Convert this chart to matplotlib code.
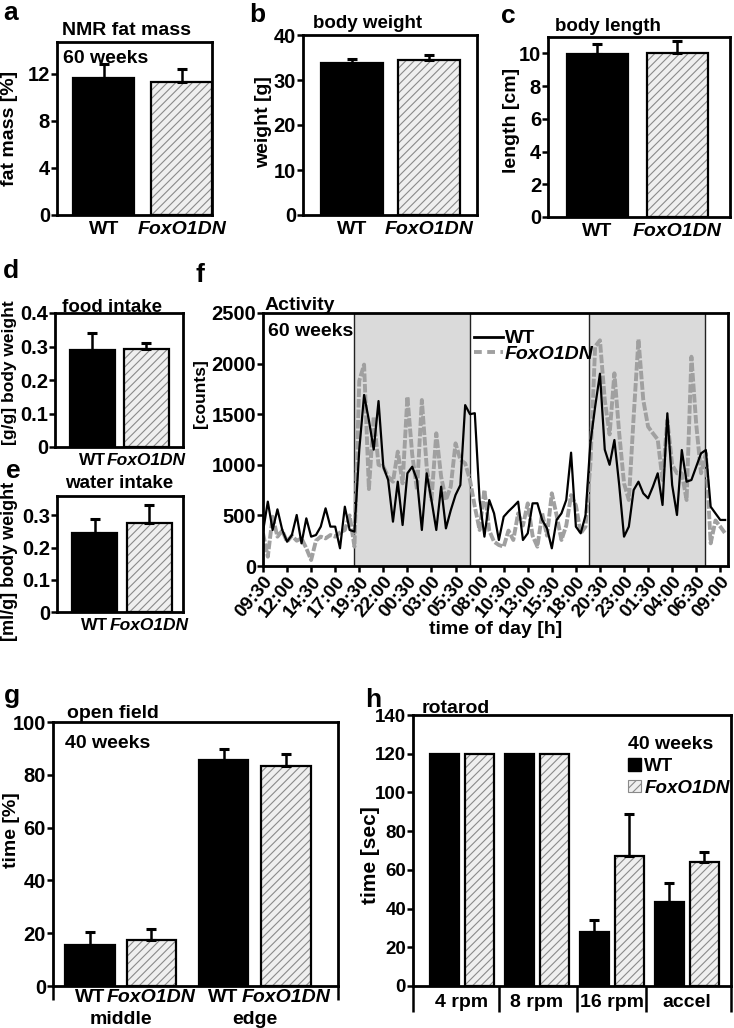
import numpy as np
import matplotlib
matplotlib.use("Agg")
import matplotlib.pyplot as plt
from matplotlib.patches import Patch
from matplotlib.lines import Line2D
from matplotlib.transforms import blended_transform_factory

W, H = 734, 1028

# ---- data ----
genotypes = ["WT", "FoxO1DN"]

fat_mass = [11.6, 11.3]
fat_mass_err = [1.2, 1.1]
body_weight = [33.7, 34.4]
body_weight_err = [0.9, 1.1]
body_length = [9.95, 10.05]
body_length_err = [0.65, 0.7]
food_intake = [0.29, 0.293]
food_intake_err = [0.05, 0.018]
water_intake = [0.245, 0.276]
water_intake_err = [0.045, 0.055]

# activity, sampled every 30 min starting 09:30
activity_hours = np.arange(0, 48.5, 0.5)
wt_activity = [
    340, 636, 356, 560, 356, 240, 306, 504, 224, 471,
    290, 306, 389, 570, 389, 389, 175, 586, 356, 340,
    1150, 1690, 1440, 1150, 1630, 980, 850, 438, 833, 405,
    916, 981, 850, 356, 916, 650, 356, 784, 372, 550,
    702, 800, 1590, 1500, 1510, 652, 290, 652, 520, 257,
    487, 540, 586, 636, 257, 323, 619, 620, 455, 372,
    175, 455, 520, 652, 1120, 389, 323, 500, 1210, 1574,
    1900, 1150, 1000, 1245, 800, 290, 389, 751, 833, 718,
    669, 784, 916, 603, 1509, 800, 504, 1146, 833, 850,
    982, 1113, 1146, 586, 520, 455, 455,
]
fox_activity = [
    323, 92, 487, 290, 350, 240, 300, 250, 273, 175,
    59, 250, 290, 273, 306, 290, 330, 356, 500, 191,
    1830, 1990, 760, 1475, 1000, 981, 883, 833, 1130, 817,
    1673, 1100, 751, 1640, 982, 652, 1311, 883, 652, 784,
    1212, 1050, 1014, 850, 586, 356, 751, 350, 240, 207,
    191, 350, 257, 520, 400, 619, 300, 191, 520, 300,
    718, 500, 257, 400, 700, 600, 323, 389, 1000, 2170,
    2230, 1640, 1300, 1904, 1311, 817, 652, 1475, 2240, 1640,
    1377, 1311, 1250, 850, 1443, 1000, 916, 916, 652, 2068,
    1400, 916, 1113, 224, 450, 389, 323,
]
dark_phases = [(9.5, 21.5), (33.9, 45.9)]
time_labels = ["09:30", "12:00", "14:30", "17:00", "19:30", "22:00", "00:30",
               "03:00", "05:30", "08:00", "10:30", "13:00", "15:30", "18:00",
               "20:30", "23:00", "01:30", "04:00", "06:30", "09:00"]

openfield_labels = ["WT", "FoxO1DN", "WT", "FoxO1DN"]
openfield_zones = ["middle", "edge"]
openfield = [15.5, 17.4, 85.5, 83.2]
openfield_err = [5.0, 4.3, 4.4, 4.6]

rotarod_speeds = ["4 rpm", "8 rpm", "16 rpm", "accel"]
rotarod_wt = [120, 120, 28, 43.5]
rotarod_wt_err = [0, 0, 6, 9.5]
rotarod_fox = [120, 120, 67.1, 64.2]
rotarod_fox_err = [0, 0, 22, 5.2]

# ---- style ----
plt.rcParams["font.family"] = ["Liberation Sans", "DejaVu Sans"]
plt.rcParams["font.weight"] = "bold"
plt.rcParams["axes.labelweight"] = "bold"
plt.rcParams["hatch.linewidth"] = 0.8
plt.rcParams["axes.linewidth"] = 2.0

HATCH_FACE = "#efefef"
HATCH_LINE = "#8a8a8a"
FS = 14      # titles / labels
TS = 14.5    # tick labels
LS = 19      # panel letters

fig = plt.figure(figsize=(W / 100, H / 100), dpi=100)


def px_axes(l, t, r, b):
    return fig.add_axes([l / W, 1 - b / H, (r - l) / W, (b - t) / H])


def ftext(x, y, s, **kw):
    kw.setdefault("fontsize", FS)
    return fig.text(x / W, 1 - y / H, s, **kw)


def ylab(x, y, s, **kw):
    return ftext(x, y, s, rotation=90, ha="center", va="center", **kw)


def style_axis(ax, size=TS, xsize=None):
    ax.tick_params(axis="y", direction="out", length=4, width=1.8, labelsize=size, pad=1)
    ax.tick_params(axis="x", length=0, labelsize=xsize or FS, pad=4)


def hatched_bar(ax, x, h, w):
    ax.bar(x, h, w, color=HATCH_FACE, edgecolor=HATCH_LINE, hatch="////", linewidth=0, zorder=2)
    ax.bar(x, h, w, color="none", edgecolor="black", linewidth=1.6, zorder=3)


def up_err(ax, x, y, e):
    ax.errorbar(x, y, yerr=[np.zeros(len(e)), e], fmt="none", ecolor="black",
                elinewidth=1.8, capsize=3.5, capthick=2.2, zorder=4)


def pair_panel(ax, vals, errs, width, xlim, ylim, yticks, yfmt=None, xsize=None):
    ax.bar(0, vals[0], width, color="black", edgecolor="black", linewidth=1.6, zorder=3)
    hatched_bar(ax, 1, vals[1], width)
    up_err(ax, [0, 1], vals, errs)
    ax.set_xlim(*xlim)
    ax.set_ylim(*ylim)
    ax.set_yticks(yticks)
    if yfmt:
        ax.set_yticklabels([yfmt(v) for v in yticks])
    ax.set_xticks([0, 1], genotypes)
    ax.get_xticklabels()[1].set_style("italic")
    style_axis(ax, xsize=xsize)


def frac_fmt(v):
    return "0" if v == 0 else f"{v:.1f}"


# a
ax = px_axes(57, 42, 212, 215)
pair_panel(ax, fat_mass, fat_mass_err, 0.78, (-0.6, 1.39), (0, 14.7), [0, 4, 8, 12])
ftext(3, 20, "a", fontsize=LS)
ftext(62, 35, "NMR fat mass")
ftext(63, 63, "60 weeks")
ylab(10, 128, "fat mass [%]")

# b
ax = px_axes(303, 35, 477, 215)
pair_panel(ax, body_weight, body_weight_err, 0.8, (-0.64, 1.62), (0, 40), [0, 10, 20, 30, 40])
ftext(249, 22, "b", fontsize=LS)
ftext(313, 28, "body weight", fontsize=13.5)
ylab(264, 122, "weight [g]")

# c
ax = px_axes(548, 37, 730, 217)
pair_panel(ax, body_length, body_length_err, 0.76, (-0.62, 1.66), (0, 11), [0, 2, 4, 6, 8, 10])
ftext(501, 23, "c", fontsize=LS)
ftext(555, 31, "body length", fontsize=13.5)
ylab(512, 120, "length [cm]")

# d
ax = px_axes(55, 313, 183, 447)
pair_panel(ax, food_intake, food_intake_err, 0.83, (-0.69, 1.68), (0, 0.4),
           [0, 0.1, 0.2, 0.3, 0.4], yfmt=frac_fmt, xsize=12.5)
ftext(3, 278, "d", fontsize=LS)
ftext(62, 312, "food intake", fontsize=13.5)
ylab(10, 373, "[g/g] body weight", fontsize=12.5)

# e
ax = px_axes(57, 496, 183, 612)
pair_panel(ax, water_intake, water_intake_err, 0.82, (-0.69, 1.62), (0, 0.36),
           [0, 0.1, 0.2, 0.3], yfmt=frac_fmt, xsize=12.5)
ftext(6, 478, "e", fontsize=LS)
ftext(65, 488, "water intake", fontsize=13.5)
ylab(10, 561, "[ml/g] body weight", fontsize=13)

# f
ax = px_axes(263, 313, 728, 566)
for start, end in dark_phases:
    ax.axvspan(start, end, color="#dadada", zorder=0, linewidth=0)
    ax.axvline(start, color="#222222", lw=1.0, zorder=1)
    ax.axvline(end, color="#222222", lw=1.0, zorder=1)
ax.plot(activity_hours, fox_activity, color="#a0a0a0", lw=2.8, ls=(0, (2.2, 0.5)), zorder=2)
ax.plot(activity_hours, wt_activity, color="black", lw=1.6, zorder=3)
ax.set_xlim(0, 48.3)
ax.set_ylim(0, 2500)
ax.set_yticks(range(0, 2501, 500))
ax.set_xticks(np.arange(len(time_labels)) * 2.5)
ax.set_xticklabels(time_labels, rotation=50, ha="right", rotation_mode="anchor")
ax.tick_params(axis="y", direction="out", length=4, width=1.8, labelsize=TS, pad=1)
ax.tick_params(axis="x", direction="out", length=4, width=1.8, labelsize=13.5, pad=1)
ax.set_xlabel("time of day [h]", fontsize=FS, labelpad=0)
leg = ax.legend(handles=[Line2D([], [], color="black", lw=2),
                         Line2D([], [], color="#a0a0a0", lw=2.8, ls=(0, (2.0, 1.4)))],
                labels=genotypes, loc="upper left", bbox_to_anchor=(464 / W, 1 - 320 / H),
                bbox_transform=fig.transFigure, frameon=False, fontsize=FS,
                handlelength=1.5, handletextpad=0.1, labelspacing=-0.1, borderpad=0)
leg.get_texts()[1].set_style("italic")
ftext(196, 282, "f", fontsize=LS)
ftext(265, 310, "Activity")
ftext(268, 336, "60 weeks")
ylab(200, 394, "[counts]", fontsize=12.5)

# g
ax = px_axes(53, 722, 338, 986)
of_pos = [0, 1, 2.17, 3.18]
for i, (p, v) in enumerate(zip(of_pos, openfield)):
    if i % 2 == 0:
        ax.bar(p, v, 0.81, color="black", edgecolor="black", linewidth=1.6, zorder=3)
    else:
        hatched_bar(ax, p, v, 0.81)
up_err(ax, of_pos, openfield, openfield_err)
ax.set_xlim(-0.6, 4.03)
ax.set_ylim(0, 100)
ax.set_yticks(range(0, 101, 20))
ax.set_xticks(of_pos, openfield_labels)
for t in ax.get_xticklabels()[1::2]:
    t.set_style("italic")
style_axis(ax)
ax.tick_params(axis="x", pad=2)
ax.set_xticks([-0.6, 4.03], minor=True)
ax.tick_params(axis="x", which="minor", direction="out", length=10, width=1.8)
trans = blended_transform_factory(ax.transData, ax.transAxes)
ax.text((of_pos[0] + of_pos[1]) / 2, -0.125, openfield_zones[0], transform=trans,
        ha="center", va="center", fontsize=FS)
ax.text((of_pos[2] + of_pos[3]) / 2, -0.125, openfield_zones[1], transform=trans,
        ha="center", va="center", fontsize=FS)
ftext(4, 703, "g", fontsize=LS)
ftext(67, 718, "open field")
ftext(65, 748, "40 weeks")
ylab(11, 830, "time [%]")

# h
ax = px_axes(413, 715, 731, 986)
grp = np.arange(len(rotarod_speeds))
off = 0.235
ax.bar(grp - off, rotarod_wt, 0.39, color="black", edgecolor="black", linewidth=1.6, zorder=3)
hatched_bar(ax, grp + off, rotarod_fox, 0.39)
up_err(ax, (grp - off)[2:], rotarod_wt[2:], rotarod_wt_err[2:])
up_err(ax, (grp + off)[2:], rotarod_fox[2:], rotarod_fox_err[2:])
ax.set_xlim(-0.65, 3.59)
ax.set_ylim(0, 140)
ax.set_yticks(range(0, 141, 20))
ax.set_xticks(grp, rotarod_speeds)
style_axis(ax, size=13.5)
ax.tick_params(axis="x", pad=6)
ax.set_xticks([-0.65, 0.5, 1.54, 2.46, 3.59], minor=True)
ax.tick_params(axis="x", which="minor", direction="out", length=19, width=1.8)
leg = ax.legend(handles=[Patch(facecolor="black", edgecolor="black"),
                         Patch(facecolor=HATCH_FACE, edgecolor=HATCH_LINE, hatch="////", linewidth=0.8)],
                labels=genotypes, title="40 weeks", loc="upper left",
                bbox_to_anchor=(619 / W, 1 - 727 / H), bbox_transform=fig.transFigure,
                frameon=False, fontsize=13.5, title_fontproperties={"weight": "bold", "size": FS},
                handlelength=0.65, handleheight=0.65, handletextpad=0.2, labelspacing=0.25,
                borderpad=0, alignment="left")
leg.get_texts()[1].set_style("italic")
ftext(365, 707, "h", fontsize=LS)
ftext(422, 713, "rotarod")
ylab(370, 855, "time [sec]", fontsize=15)

fig.savefig("out.png", dpi=100)
